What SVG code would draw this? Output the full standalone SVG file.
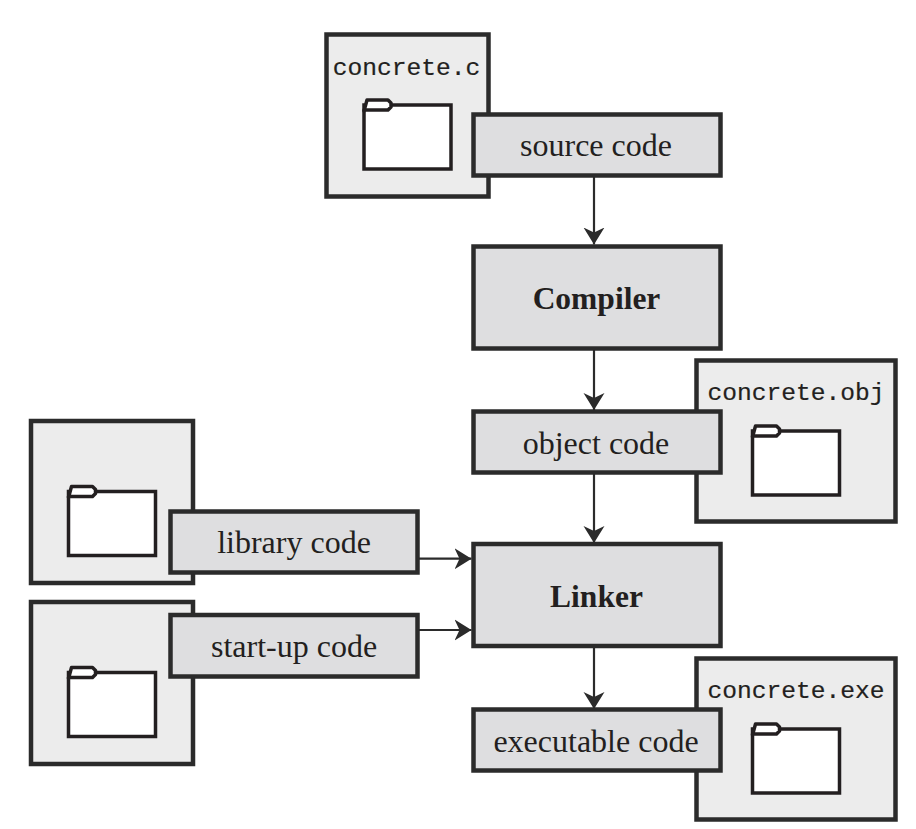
<svg xmlns="http://www.w3.org/2000/svg" width="916" height="829" viewBox="0 0 916 829">
<defs>
<marker id="arrow" markerUnits="userSpaceOnUse" markerWidth="18" markerHeight="22" refX="17" refY="11" orient="auto"><path d="M0 .5L17 11L0 21.500L5 11Z" fill="#2b2b2b"/></marker>
<g id="folder"><rect class="fo" x="0" y="0" width="87" height="64"/><path class="fo" d="M0 6L3 -5H24L27 -2V2L24 5H0Z"/></g>
</defs>
<style>
rect{stroke:#2b2b2b;stroke-width:4.5}
.file{fill:#ececec}
.box{fill:#dedee0}
rect.fo,.fo{fill:#fff;stroke:#231f20;stroke-width:3.5}
path.fo{stroke-linejoin:round}
.c{stroke:#2b2b2b;stroke-width:2.2;fill:none;marker-end:url(#arrow)}
.t{font-family:"Liberation Serif",serif;font-size:32px;fill:#231f20;text-anchor:middle}
.b{font-weight:bold;font-size:31.5px}
.m{font-family:"Liberation Mono",monospace;font-size:24.6px;fill:#231f20;stroke:#231f20;stroke-width:.2;text-anchor:middle}
</style>
<g id="connectors">
<path class="c" d="M594 177V244.500"/>
<path class="c" d="M594 349V410"/>
<path class="c" d="M594 474V543"/>
<path class="c" d="M594 647V709"/>
<path class="c" d="M418 558.700H471.500"/>
<path class="c" d="M418 630H471.500"/>
</g>
<g id="file-concrete-c"><rect class="file" x="326.500" y="34.500" width="162" height="162"/><text class="m" x="406.500" y="75">concrete.c</text><use href="#folder" x="364" y="105"/></g>
<g id="file-concrete-obj"><rect class="file" x="696.500" y="360.500" width="199" height="161"/><text class="m" x="796" y="400">concrete.obj</text><use href="#folder" x="752.500" y="431"/></g>
<g id="file-concrete-exe"><rect class="file" x="696.500" y="658.500" width="199" height="161"/><text class="m" x="796" y="698">concrete.exe</text><use href="#folder" x="752.500" y="729"/></g>
<g id="file-library"><rect class="file" x="31" y="421" width="162" height="162"/><use href="#folder" x="68.500" y="491.500"/></g>
<g id="file-startup"><rect class="file" x="31" y="602" width="162" height="162"/><use href="#folder" x="68.500" y="672.500"/></g>
<g id="source-code"><rect class="box" x="473.500" y="114.500" width="247" height="61"/><text class="t" x="596" y="156">source code</text></g>
<g id="compiler"><rect class="box" x="473.500" y="246.500" width="247" height="102"/><text class="t b" x="596.500" y="309">Compiler</text></g>
<g id="object-code"><rect class="box" x="473.500" y="411.500" width="247" height="61"/><text class="t" x="596" y="454">object code</text></g>
<g id="library-code"><rect class="box" x="170.500" y="511.500" width="247" height="61"/><text class="t" x="294" y="553">library code</text></g>
<g id="start-up-code"><rect class="box" x="170.500" y="615" width="247" height="61.500"/><text class="t" x="294" y="657">start-up code</text></g>
<g id="linker"><rect class="box" x="473.500" y="544" width="247" height="102"/><text class="t b" x="596.500" y="607">Linker</text></g>
<g id="executable-code"><rect class="box" x="473.500" y="709.500" width="247" height="61"/><text class="t" x="596" y="752">executable code</text></g>
</svg>
